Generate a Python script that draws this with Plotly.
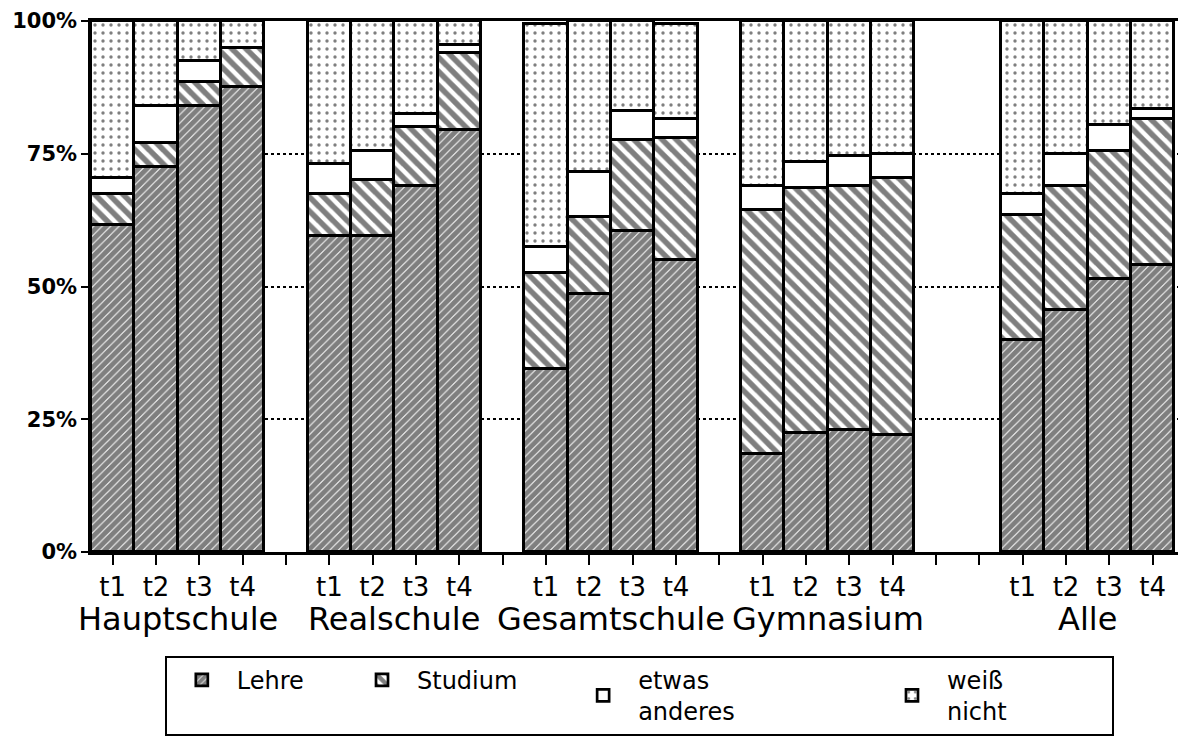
import plotly.graph_objects as go

groups = ["Hauptschule", "Realschule", "Gesamtschule", "Gymnasium", "Alle"]
group_start = [0, 5, 10, 15, 21]
times = ["t1", "t2", "t3", "t4"]

# shares in percent, per group, t1..t4
lehre = [
    [61.5, 72.5, 84.0, 87.5],
    [59.5, 59.5, 69.0, 79.5],
    [34.5, 48.5, 60.5, 55.0],
    [18.5, 22.5, 23.0, 22.0],
    [40.0, 45.5, 51.5, 54.0],
]
studium = [
    [6.0, 4.5, 4.5, 7.5],
    [8.0, 10.5, 11.0, 14.5],
    [18.0, 14.5, 17.0, 23.0],
    [46.0, 46.0, 46.0, 48.5],
    [23.5, 23.5, 24.0, 27.5],
]
etwas = [
    [3.0, 7.0, 4.0, 0.0],
    [5.5, 5.5, 2.5, 1.5],
    [5.0, 8.5, 5.5, 3.5],
    [4.5, 5.0, 5.5, 4.5],
    [4.0, 6.0, 5.0, 2.0],
]
weiss = [
    [29.5, 16.0, 7.5, 5.0],
    [27.0, 24.5, 17.5, 4.5],
    [42.0, 28.5, 17.0, 18.0],
    [31.0, 26.5, 25.5, 25.0],
    [32.5, 25.0, 19.5, 16.5],
]

x = []
for s in group_start:
    for i in range(4):
        x.append(s + i)

def flat(a):
    return [v for row in a for v in row]

FONT = "DejaVu Sans"
NB = "\u00a0"
line = dict(color="black", width=2.7)

fig = go.Figure()
fig.add_bar(x=x, y=flat(lehre), name="Lehre" + NB * 5,
            marker=dict(color="white", line=line,
                        pattern=dict(shape="/", size=6, solidity=0.85,
                                     fgcolor="black", bgcolor="white")))
fig.add_bar(x=x, y=flat(studium), name="Studium" + NB * 6,
            marker=dict(color="white", line=line,
                        pattern=dict(shape="\\", size=10, solidity=0.55,
                                     fgcolor="black", bgcolor="white")))
fig.add_bar(x=x, y=flat(etwas), name="etwas<br>anderes" + NB * 18,
            marker=dict(color="white", line=line))
fig.add_bar(x=x, y=flat(weiss), name="weiß<br>nicht" + NB * 13,
            marker=dict(color="white", line=line,
                        pattern=dict(shape=".", size=8, solidity=0.14,
                                     fgcolor="black", bgcolor="white")))

tickvals = list(range(0, 25))
ticktext = []
for v in tickvals:
    lab = ""
    for s in group_start:
        if s <= v < s + 4:
            lab = times[v - s]
    ticktext.append(lab)

for g, s in zip(groups, group_start):
    fig.add_annotation(x=s + 1.5, xref="x", y=-0.126, yref="paper",
                       text=g, showarrow=False, yanchor="middle",
                       font=dict(family=FONT, size=32, color="black"))

# the page body adds an 8px offset, so the figure is 8px smaller
fig.update_layout(
    barmode="stack", bargap=0,
    width=1178, height=729,
    margin=dict(l=83, r=3, t=13, b=184),
    paper_bgcolor="white", plot_bgcolor="white",
    font=dict(family=FONT, color="black"),
    legend=dict(orientation="h", x=0.0676, xanchor="left", y=-0.193, yanchor="top",
                bordercolor="black", borderwidth=2, entrywidth=0, itemwidth=60,
                font=dict(family=FONT, size=24, color="black"),
                traceorder="normal", valign="middle"),
    xaxis=dict(range=[-0.5, 24.7], tickvals=tickvals, ticktext=ticktext,
               showline=True, linecolor="black", linewidth=2.5, mirror=True,
               ticks="outside", ticklen=10, tickwidth=2, tickcolor="black",
               ticklabelstandoff=0, automargin=False,
               showgrid=False, zeroline=False,
               tickfont=dict(family=FONT, size=26, color="black")),
    yaxis=dict(range=[0, 100], tickvals=[0, 25, 50, 75, 100],
               ticktext=["0%", "25%", "50%", "75%", "100%"],
               showline=True, linecolor="black", linewidth=2.5,
               ticks="outside", ticklen=7, tickwidth=2, tickcolor="black",
               ticklabelstandoff=0,
               automargin=False, ticklabeloverflow="allow",
               showgrid=True, gridcolor="black", griddash="dot", gridwidth=1.5,
               zeroline=False,
               tickfont=dict(family=FONT, size=21, color="black", weight="bold")),
)

fig.write_html("out.html")
